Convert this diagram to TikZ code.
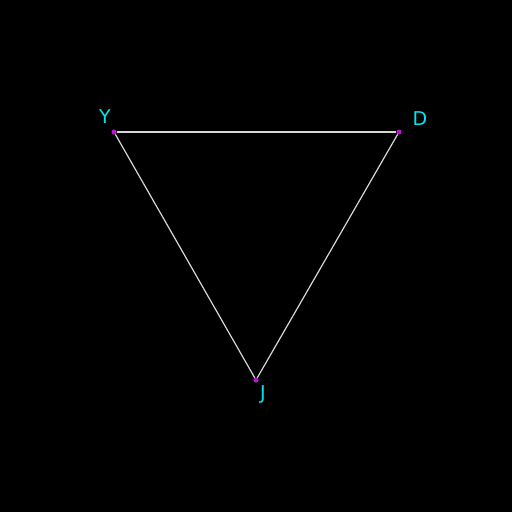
\documentclass[tikz,border=0pt]{standalone}
\usepackage{fontspec}
\setmainfont{DejaVu Sans}
\definecolor{edgegray}{RGB}{215,215,215}
\definecolor{dotmag}{RGB}{190,20,210}
\definecolor{labcyan}{RGB}{0,230,240}
\tikzset{
  vertex/.style={circle,fill=dotmag,inner sep=0pt,minimum size=5pt},
  vlabel/.style={text=labcyan,font=\fontsize{19}{19}\selectfont,inner sep=0pt},
  side/.style={draw=edgegray,line width=1.2pt}
}
\begin{document}
\begin{tikzpicture}[x=1pt,y=-1pt]
\fill[black] (0,0) rectangle (512,512);
\useasboundingbox (0,0) rectangle (512,512);
% the three corners
\node[vertex] (y) at (114,132) {};
\node[vertex] (d) at (399,132) {};
\node[vertex] (j) at (256,380) {};
% the sides
\draw[side] (y) -- (d);
\draw[side] (d) -- (j);
\draw[side] (j) -- (y);
% labels
\node[vlabel] (ly) at (105,117) {Y};
\node[vlabel] (ld) at (420,119) {D};
\node[vlabel] (lj) at (263,394) {J};
\end{tikzpicture}
\end{document}
